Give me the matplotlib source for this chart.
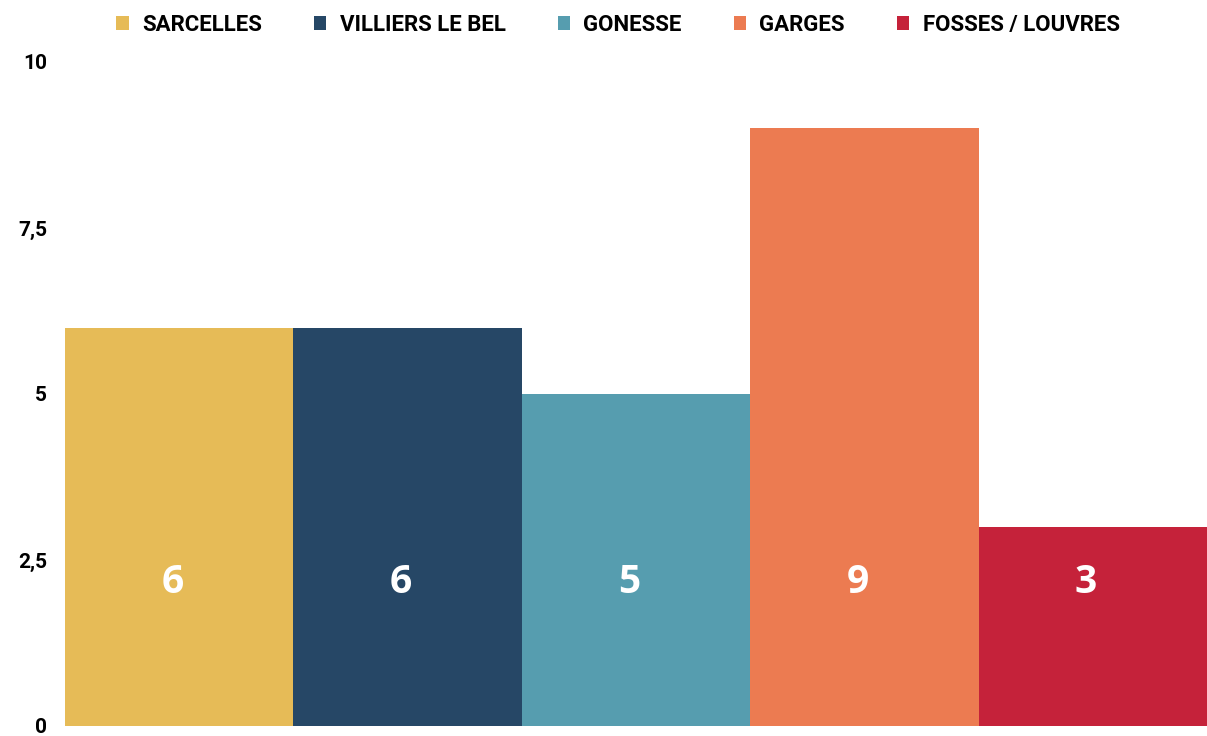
import matplotlib.pyplot as plt
from matplotlib.patches import Patch

villes = ['SARCELLES', 'VILLIERS LE BEL', 'GONESSE', 'GARGES', 'FOSSES / LOUVRES']
valeurs = [6, 6, 5, 9, 3]
couleurs = ['#E6BB57', '#264766', '#569DAF', '#EC7B51', '#C5223A']
yticks = [0, 2.5, 5, 7.5, 10]
ytick_labels = ['0', '2,5', '5', '7,5', '10']

fig = plt.figure(figsize=(12.07, 7.36), dpi=100)
ax = fig.add_axes([0.0539, 0.0136, 0.9461, 0.9022])

x = list(range(len(villes)))
ax.bar(x, valeurs, width=1.0, color=couleurs, edgecolor='none')

for xi, v in zip(x, valeurs):
    ax.text(xi - 0.03, 2.16, str(v), ha='center', va='center', color='white',
            fontsize=28, fontweight='bold', family='Open Sans')

ax.set_xlim(-0.5, len(villes) - 0.5)
ax.set_ylim(0, 10)
ax.set_yticks(yticks)
ax.set_yticklabels(ytick_labels, fontsize=15, fontweight='bold', family='Roboto')
ax.set_xticks([])
ax.tick_params(axis='y', length=0, pad=13)
ax.get_yticklabels()[0].set_verticalalignment('center_baseline')

### Contornos ###
for s in ax.spines.values():
    s.set_visible(False)

handles = [Patch(facecolor=c, edgecolor='none') for c in couleurs]
leg = fig.legend(handles, villes, loc='center', bbox_to_anchor=(0.512, 0.966),
                 ncol=5, frameon=False, handlelength=0.55, handleheight=0.55,
                 handletextpad=0.6, columnspacing=2.35,
                 prop={'family': 'Roboto', 'weight': 'bold', 'size': 16})

plt.savefig('out.png', dpi=100)
